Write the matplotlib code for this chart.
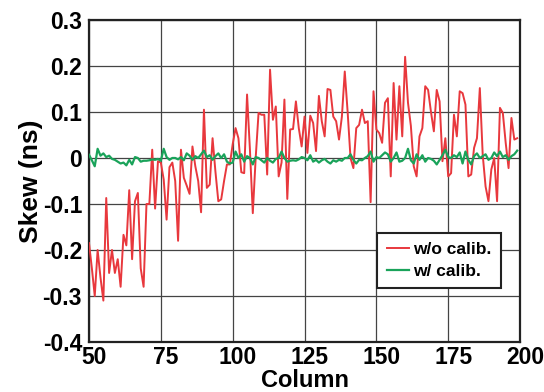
import matplotlib
matplotlib.use("Agg")
import matplotlib.pyplot as plt
import matplotlib.transforms as mtransforms
import numpy as np

plt.rcParams["font.family"] = ["Liberation Sans", "DejaVu Sans"]
plt.rcParams["font.weight"] = "bold"
plt.rcParams["axes.unicode_minus"] = False

# column index 50..199
columns = np.arange(50, 200)

skew_no_calib = [
    -0.185, -0.24, -0.30, -0.20, -0.26, -0.31, -0.087, -0.25, -0.20, -0.25,
    -0.22, -0.28, -0.167, -0.19, -0.07, -0.22, -0.094, -0.076, -0.24, -0.28,
    -0.10, -0.10, 0.018, -0.11, -0.007, -0.01, -0.047, -0.134, -0.02, -0.01,
    -0.05, -0.18, 0.018, -0.043, -0.06, -0.078, 0.025, -0.018, -0.05, -0.118,
    0.105, -0.065, -0.058, 0.043, -0.03, -0.094, -0.09, -0.05, -0.014, -0.014,
    0.03, 0.065, 0.043, -0.031, -0.033, 0.138, 0.018, -0.12, 0.0, 0.098,
    0.094, 0.094, -0.036, 0.192, 0.083, 0.112, -0.04, -0.01, 0.127, -0.089,
    0.062, 0.063, 0.123, 0.065, 0.025, 0.09, 0.011, 0.092, 0.076, 0.015,
    0.135, 0.08, 0.047, 0.15, 0.148, 0.09, 0.08, 0.04, 0.09, 0.188,
    0.10, 0.0, -0.022, 0.065, 0.072, 0.105, 0.076, 0.08, -0.096, 0.145,
    0.062, 0.054, 0.033, 0.12, 0.13, -0.04, 0.163, 0.04, 0.156, 0.047,
    0.22, 0.12, 0.07, -0.018, -0.04, 0.047, 0.065, 0.156, 0.148, 0.10,
    0.058, 0.148, 0.123, -0.007, 0.043, -0.04, -0.033, 0.094, 0.047, 0.145,
    0.141, 0.116, -0.04, -0.036, 0.022, 0.043, 0.152, 0.007, -0.062, -0.094,
    -0.025, 0.0, -0.094, 0.109, 0.098, 0.033, -0.022, 0.087, 0.04, 0.043,
]

skew_calib = [
    0.007, -0.005, -0.018, 0.02, 0.005, 0.01, 0.002, 0.005, -0.002, -0.004,
    -0.008, -0.012, -0.01, -0.016, -0.004, -0.014, 0.002, 0.0, -0.008, -0.006,
    -0.006, -0.005, -0.003, -0.004, -0.002, -0.006, 0.02, 0.002, -0.004, 0.0,
    0.0, -0.003, 0.002, -0.005, 0.01, 0.005, -0.004, 0.004, 0.0, 0.008,
    0.016, 0.002, 0.006, -0.004, 0.004, 0.01, 0.0, 0.008, -0.008, -0.012,
    -0.01, 0.014, 0.0, 0.008, -0.008, 0.004, 0.0, -0.014, 0.002, 0.0,
    -0.005, -0.01, 0.0, -0.006, -0.01, -0.002, 0.0, 0.014, 0.0, -0.008,
    -0.006, -0.005, -0.006, -0.003, 0.002, 0.0, -0.005, 0.006, -0.008, -0.004,
    -0.01, -0.005, -0.002, -0.008, -0.012, -0.005, -0.008, -0.004, -0.006, 0.0,
    0.0, 0.008, -0.004, -0.012, -0.004, -0.005, 0.0, 0.004, 0.014, -0.008,
    0.002, 0.0, 0.006, 0.012, 0.008, -0.008, 0.0, 0.012, -0.008, -0.006,
    0.0, 0.02, -0.005, -0.012, 0.008, -0.004, 0.006, -0.008, 0.0, -0.002,
    -0.006, -0.014, -0.004, 0.006, 0.018, 0.002, 0.0, 0.006, 0.002, 0.012,
    -0.012, 0.014, -0.004, -0.014, 0.004, 0.01, 0.0, 0.004, 0.008, -0.004,
    0.0, 0.012, 0.004, 0.014, 0.002, 0.006, -0.004, 0.004, 0.008, 0.016,
]

x_ticks = [50, 75, 100, 125, 150, 175, 200]
y_ticks = [-0.4, -0.3, -0.2, -0.1, 0, 0.1, 0.2, 0.3]
y_tick_labels = ["-0.4", "-0.3", "-0.2", "-0.1", "0", "0.1", "0.2", "0.3"]

fig = plt.figure(figsize=(5.44, 3.92), dpi=100)
ax = fig.add_axes([0.1636, 0.1276, 0.7924, 0.8214])

ax.plot(columns, skew_no_calib, color="#e8383d", lw=1.4, label="w/o calib.", zorder=3)
ax.plot(columns, skew_calib, color="#1aa35a", lw=1.6, label="w/ calib.", zorder=4)

ax.set_xlim(50, 200)
ax.set_ylim(-0.4, 0.3)
ax.set_xticks(x_ticks)
ax.set_yticks(y_ticks)
ax.set_yticklabels(y_tick_labels)
ax.tick_params(length=0, labelsize=16.5)
ax.tick_params(axis="x", pad=3)
ax.tick_params(axis="y", pad=5)

# x tick labels sit a little to the right of their ticks in the original
shift = mtransforms.ScaledTranslation(5 / 100, 0, fig.dpi_scale_trans)
for lbl in ax.get_xticklabels():
    lbl.set_transform(lbl.get_transform() + shift)
for lbl in ax.get_xticklabels() + ax.get_yticklabels():
    lbl.set_fontweight("bold")

ax.grid(True, color="#444444", lw=0.9)
ax.set_axisbelow(True)
for sp in ax.spines.values():
    sp.set_linewidth(1.6)
    sp.set_color("#222222")

ax.set_xlabel("Column", fontsize=17, fontweight="bold", labelpad=0)
ax.set_ylabel("Skew (ns)", fontsize=19, fontweight="bold", labelpad=0)

leg = ax.legend(loc="lower right", bbox_to_anchor=(0.975, 0.14), fontsize=12.5,
                handlelength=1.3, handletextpad=0.2, borderpad=0.55,
                labelspacing=0.35, fancybox=False, framealpha=1)
leg.get_frame().set_edgecolor("#222222")
leg.get_frame().set_linewidth(1.5)
for t in leg.get_texts():
    t.set_fontweight("bold")

fig.savefig("out.png", dpi=100)
